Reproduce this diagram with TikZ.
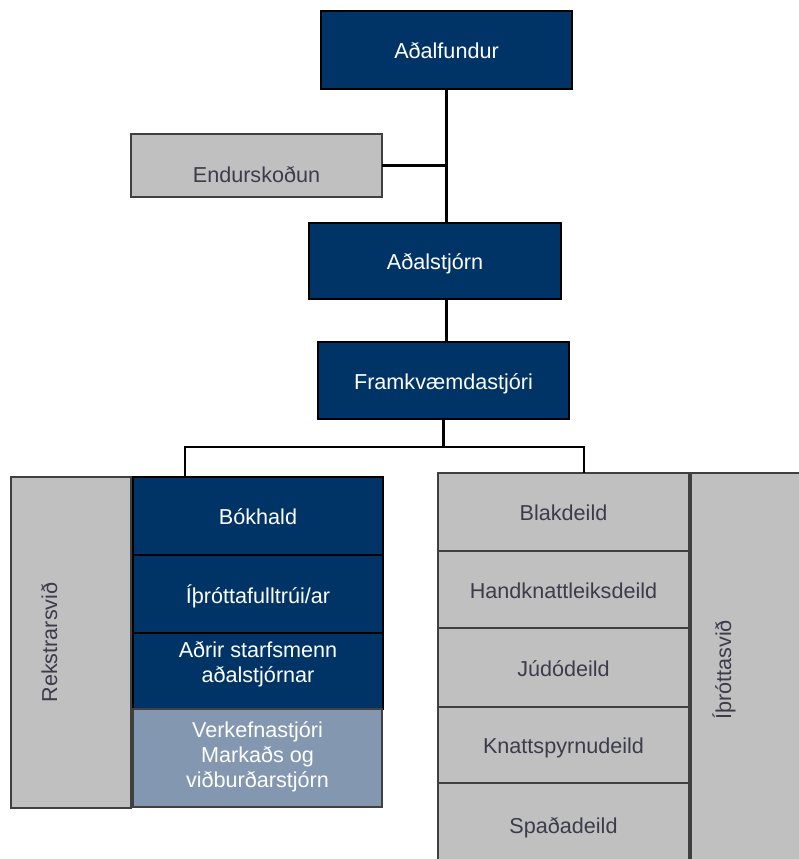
\documentclass[tikz,border=0pt]{standalone}
\usepackage{fontspec}
\setmainfont{Liberation Sans}

\definecolor{orgblue}{HTML}{003366}
\definecolor{orgslate}{HTML}{8497B0}
\definecolor{orggray}{HTML}{C0C0C0}
\definecolor{orgink}{HTML}{3C3C4C}
\definecolor{orgedge}{HTML}{404040}

\tikzset{
    box/.style={rectangle, inner sep=0pt, outer sep=0pt, line width=1.6pt, align=center,
        font=\fontsize{21.6}{25}\selectfont, text height=19pt, text depth=2pt},
    darkbox/.style={box, draw=black, fill=orgblue, text=white},
    lightbox/.style={box, draw=orgedge, fill=orggray, text=orgink},
    conn/.style={line width=2.5pt},
}

\begin{document}
\begin{tikzpicture}[x=1pt,y=-1pt]
    \useasboundingbox (0,0) rectangle (799,859);
    \clip (0,0) rectangle (799,859);

    % Top of the chart
    \node[darkbox, minimum width=251pt, minimum height=78pt] (fundur) at (446.5,50) {Aðalfundur};
    \node[lightbox, minimum width=251pt, minimum height=63pt, text height=36pt] (endurskodun) at (256.5,165.5) {Endurskoðun};
    \node[darkbox, minimum width=252pt, minimum height=76pt] (stjorn) at (435,261) {Aðalstjórn};
    \node[darkbox, minimum width=251pt, minimum height=77pt] (framkv) at (443.5,380.5) {Framkvæmdastjóri};

    % Left column
    \node[lightbox, rotate=90, minimum width=331pt, minimum height=120pt, text height=2pt, text depth=30pt] (rekstur) at (71,642.5) {Rekstrarsvið};
    \node[darkbox, minimum width=250pt, minimum height=78pt] (bokhald) at (258,516) {Bókhald};
    \node[darkbox, minimum width=250pt, minimum height=78pt, text height=21pt] (fulltrui) at (258,594) {Íþróttafulltrúi/ar};
    \node[darkbox, minimum width=250pt, minimum height=76pt, text height=40pt, text depth=17pt] (starfsmenn) at (258,671) {Aðrir starfsmenn\\aðalstjórnar};
    \node[box, draw=orgedge, fill=orgslate, text=white, minimum width=249pt, minimum height=98pt, text height=70pt, text depth=12pt] (verkefni) at (257.5,758) {Verkefnastjóri\\Markaðs og\\viðburðarstjórn};

    % Right column
    \node[lightbox, minimum width=251pt, minimum height=78pt] (blak) at (563.5,512) {Blakdeild};
    \node[lightbox, minimum width=251pt, minimum height=77pt] (handbolti) at (563.5,589.5) {Handknattleiksdeild};
    \node[lightbox, minimum width=251pt, minimum height=79pt] (judo) at (563.5,667.5) {Júdódeild};
    \node[lightbox, minimum width=251pt, minimum height=76pt] (fotbolti) at (563.5,745) {Knattspyrnudeild};
    \node[lightbox, minimum width=251pt, minimum height=84pt] (spadi) at (563.5,825) {Spaðadeild};
    \node[lightbox, rotate=90, minimum width=394pt, minimum height=120pt, text height=1pt, text depth=41pt] (ithrottir) at (751,670) {Íþróttasvið};

    % Lines
    \coordinate (leftdrop) at (185,447);
    \coordinate (rightdrop) at (584,447);
    \draw[conn] (fundur.south) -- (fundur.south |- stjorn.north);
    \draw[conn] (endurskodun.east) -- (endurskodun.east -| fundur.south);
    \draw[conn] (fundur.south |- stjorn.south) -- (fundur.south |- framkv.north);
    \draw[conn] (framkv.south) -- (framkv.south |- leftdrop);
    \draw[conn] (leftdrop |- bokhald.north) |- (rightdrop) -- (rightdrop |- blak.north);
\end{tikzpicture}
\end{document}
